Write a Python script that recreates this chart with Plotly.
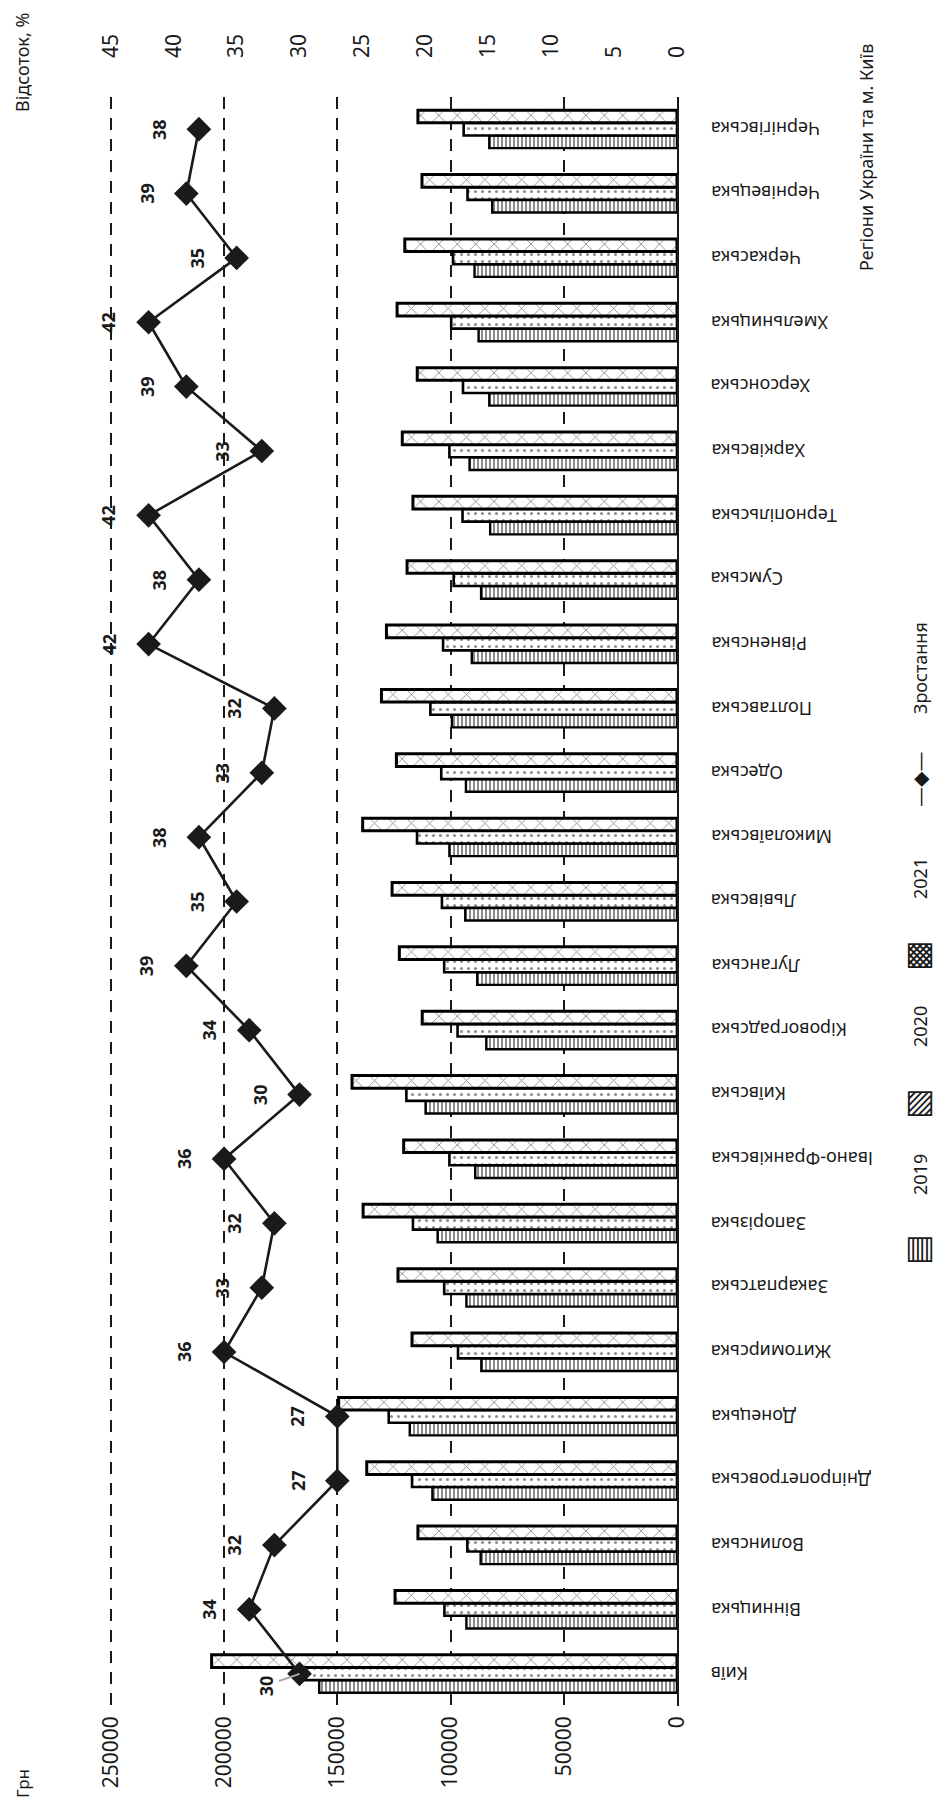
import plotly.graph_objects as go

categories = ["Київ", "Вінницька", "Волинська", "Дніпропетровська", "Донецька",
              "Житомирська", "Закарпатська", "Запорізька", "Івано-Франківська",
              "Київська", "Кіровоградська", "Луганська", "Львівська", "Миколаївська",
              "Одеська", "Полтавська", "Рівненська", "Сумська", "Тернопільська",
              "Харківська", "Херсонська", "Хмельницька", "Черкаська", "Чернівецька",
              "Чернігівська"]

salary_2019 = [158000, 93000, 86700, 108000, 118000, 86400, 93000, 105700, 89100,
               111000, 84200, 88200, 93500, 100500, 93200, 99400, 90600, 86500,
               82500, 91600, 82900, 87600, 89400, 81600, 82900]
salary_2020 = [164000, 102700, 92600, 117000, 127300, 96700, 102800, 116600, 100500,
               119500, 96900, 102800, 103800, 114800, 104100, 108900, 103300, 98600,
               94700, 100500, 94500, 99700, 98900, 92500, 94200]
salary_2021 = [205500, 124500, 114400, 137000, 149400, 117000, 123200, 138600, 120700,
               143500, 112500, 122600, 125800, 138800, 123900, 130500, 128300, 119200,
               116600, 121300, 114700, 123600, 120200, 112600, 114400]
growth_pct = [30, 34, 32, 27, 27, 36, 33, 32, 36, 30, 34, 39, 35, 38, 33, 32, 42, 38,
              42, 33, 39, 42, 35, 39, 38]

series_names = ["2019", "2020", "2021"]
line_name = "Зростання"
uah_ticks = [0, 50000, 100000, 150000, 200000, 250000]
pct_ticks = [0, 5, 10, 15, 20, 25, 30, 35, 40, 45]

FONT = "Noto Sans"
INK = "#1a1a1a"
W, H = 941, 1804
ML, MR, MT, MB = 108, 264, 97, 98
PW, PH = W - ML - MR, H - MT - MB
PAD = 1.005  # small range padding so the 250000 / 45 % gridline stays visible


def px(X):
    return (X - ML) / PW


def py(Y):
    return (H - MB - Y) / PH


patterns = [
    dict(shape="|", fgcolor=INK, bgcolor="white", size=4, solidity=0.5),
    dict(shape=".", fgcolor=INK, bgcolor="white", size=7, solidity=0.15),
    dict(shape="x", fgcolor=INK, bgcolor="white", size=13, solidity=0.13),
]
outline_w = [2.4, 2.6, 3]

fig = go.Figure()
for name, vals, pat, lw in zip(series_names, [salary_2019, salary_2020, salary_2021],
                               patterns, outline_w):
    fig.add_trace(go.Bar(
        y=categories, x=vals, orientation="h", name=name,
        marker=dict(color="white", line=dict(color="black", width=lw), pattern=pat),
        showlegend=False,
    ))

fig.add_trace(go.Scatter(
    y=categories, x=growth_pct, xaxis="x2", name=line_name,
    mode="lines+markers",
    line=dict(color=INK, width=2.6),
    marker=dict(symbol="diamond", size=19, color=INK),
    showlegend=False,
))

label_font = dict(family=FONT, size=18, color=INK, weight="bold")
annotations = []
for cat, g in zip(categories, growth_pct):
    if cat == "Київ":
        annotations.append(dict(
            x=g, y=cat, xref="x2", yref="y", text=str(g), textangle=-90,
            showarrow=True, arrowhead=0, arrowwidth=2, arrowcolor="#a8a8a8",
            ax=-34, ay=12, standoff=0, font=label_font))
    else:
        annotations.append(dict(
            x=g, y=cat, xref="x2", yref="y", text=str(g), textangle=-90,
            showarrow=False, xshift=-40, xanchor="center", yanchor="middle",
            font=label_font))

# category labels (upside down, as in the rotated original)
cat_font = dict(family=FONT, size=18, color=INK)
for cat in categories:
    annotations.append(dict(
        x=1, y=cat, xref="paper", yref="y", text=cat, textangle=180,
        showarrow=False, xanchor="left", yanchor="middle", xshift=32,
        font=cat_font))


def side_text(X, Y, t, size=18):
    return dict(x=px(X), y=py(Y), xref="paper", yref="paper", text=t,
                textangle=-90, showarrow=False, xanchor="center",
                yanchor="middle", font=dict(family=FONT, size=size, color=INK))


annotations += [
    side_text(22, 1784, "Грн", 17),
    side_text(22, 63, "Відсоток, %"),
    side_text(866, 158, "Регіони України та м. Київ"),
]

# legend (rotated like the rest of the chart)
LX = 920
legend_items = [
    ("2019", "▥", 1175, 1247),
    ("2020", "▨", 1027, 1101),
    ("2021", "▩", 879, 953),
]
for t, key, ty, ky in legend_items:
    annotations.append(side_text(LX, ty, t))
    annotations.append(dict(x=px(LX), y=py(ky), xref="paper", yref="paper",
                            text=key, showarrow=False, xanchor="center",
                            yanchor="middle",
                            font=dict(family="DejaVu Sans", size=32, color=INK)))
annotations.append(dict(x=px(LX), y=py(780), xref="paper", yref="paper",
                        text="—◆—", textangle=-90, showarrow=False,
                        xanchor="center", yanchor="middle",
                        font=dict(family="DejaVu Sans", size=20, color=INK)))
annotations.append(side_text(LX, 668, line_name))

fig.update_layout(
    width=W, height=H,
    margin=dict(l=ML, r=MR, t=MT, b=MB),
    paper_bgcolor="white", plot_bgcolor="white",
    barmode="group", bargap=0.41, bargroupgap=0,
    font=dict(family=FONT, size=18, color=INK),
    showlegend=False,
    xaxis=dict(range=[250000 * PAD, 0], tickvals=uah_ticks,
               ticktext=[str(v) for v in uah_ticks],
               tickangle=-90, showgrid=True, gridcolor=INK, gridwidth=2,
               griddash="12px,9px", zeroline=False, showline=False, ticks="",
               ticklabelstandoff=5, tickfont=dict(family=FONT, size=21, color=INK)),
    xaxis2=dict(range=[45 * PAD, 0], tickvals=pct_ticks, overlaying="x", side="top",
                tickangle=-90, showgrid=False, zeroline=False, showline=False,
                ticks="", ticklabelstandoff=38,
                tickfont=dict(family=FONT, size=21, color=INK)),
    yaxis=dict(type="category", range=[-0.5, len(categories) - 0.5], side="right",
               showline=True, linecolor=INK, linewidth=1.5, ticks="", showgrid=False,
               showticklabels=False),
    annotations=annotations,
)

fig.write_html(
    "out.html",
    config={"displayModeBar": False},
    post_script="document.body.style.margin='0';document.body.style.overflow='hidden';",
)
